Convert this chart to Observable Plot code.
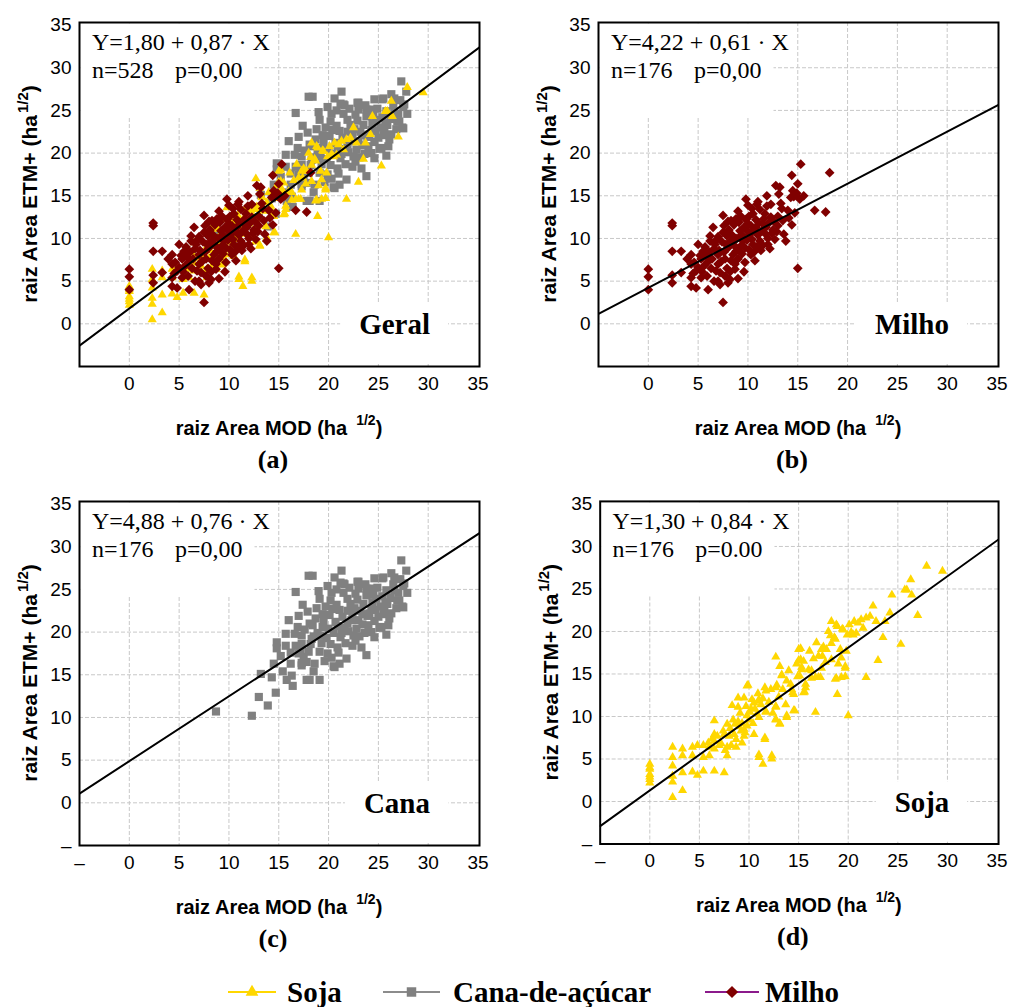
<!DOCTYPE html>
<html><head><meta charset="utf-8">
<script src="https://cdn.jsdelivr.net/npm/d3@7"></script>
<script src="https://cdn.jsdelivr.net/npm/@observablehq/plot@0.6"></script>
<style>
html,body{margin:0;padding:0;background:#fff}
body{width:1011px;height:1007px;overflow:hidden;position:relative}
.panel{position:absolute}
</style></head><body>
<script>
// ---------- data ----------
const soja = [
[0,4.4],[0,4.0],[0,3.8],[0,3.2],[0,2.9],[0,2.6],[0,2.2],
[2.3,6.4],[2.3,5.2],[2.3,4.2],[2.3,3.0],[2.3,2.3],[2.3,0.5],[3.3,6.2],[3.3,5.4],[3.3,3.4],[3.3,1.3],
[4.3,6.4],[4.3,5.4],[4.3,3.5],[4.8,6.6],[4.8,3.1],[5.4,6.6],[5.4,5.2],[5.4,3.6],[6.0,6.4],[6.0,5.4],
[6.5,9.5],[6.5,7.9],[6.5,7.1],[6.5,6.2],[6.5,3.6],[7.0,6.6],[7.5,7.9],[7.5,3.4],[7.8,9.1],[7.8,6.4],[7.8,5.4],
[8.3,11.3],[8.6,9.1],[8.7,7.3],[8.7,6.4],[8.9,12.2],[8.9,11.1],[9.2,8.3],[9.5,12.2],[9.5,8.5],[9.5,7.7],
[9.8,13.6],[9.8,10.1],[9.8,8.9],[10.2,10.9],[10.5,11.6],[10.8,10.3],[11.0,11.8],[11.0,9.9],[11.0,5.2],
[11.4,4.4],[11.6,7.3],[11.7,13.0],[11.7,10.5],[12.2,13.2],[12.3,5.0],[12.7,17.0],[12.7,11.1],[12.7,9.7],
[12.7,13.4],[13.1,15.9],[13.1,9.1],[13.3,14.8],[13.7,11.4],[13.8,14.2],[13.8,9.9],[14.4,12.8],[14.6,10.7],
[15.0,17.9],[15.0,16.6],[15.1,14.8],[15.3,15.8],[15.5,12.8],[15.7,13.8],[16.1,17.7],[16.3,15.4],[16.7,10.5],
[16.8,18.7],[17.0,14.6],[17.3,17.9],[17.4,17.1],[17.8,17.9],[18.2,19.5],[18.3,21.2],[18.7,19.1],[18.7,14.4],
[18.9,20.6],[18.9,12.6],[19.2,17.9],[19.3,14.6],[19.5,20.2],[19.7,15.7],[19.8,17.7],[20.0,10.1],[20.5,19.6],
[20.6,21.2],[21.0,21.0],[21.3,21.4],[21.8,14.6],[21.8,21.6],[22.5,23.0],[22.8,21.2],[23.0,16.6],[23.5,19.3],
[23.7,21.2],[24.2,22.2],[24.4,24.3],[25.3,18.5],[25.7,24.9],[25.9,24.9],[26.3,26.1],[26.4,24.3],[27.0,21.9],
[27.9,27.7],[29.5,27.1],
[18.8,20.8],[19.4,20.3],[18.6,19.3],[19.9,19.6],[20.3,19.9],[18.3,18.6],[17.5,18.2],[15.2,18.0],[15.2,16.7],
[15.5,16.5],[17.0,17.1],[18.3,16.7],[19.3,16.9],[13.3,14.9],[14.9,14.7],[15.3,15.5],[16.0,15.5],[16.3,14.5],
[16.7,14.6],[17.2,14.6],[17.3,15.7],[18.8,14.5],[19.7,14.7],[19.7,15.9],[11.6,13.4],[12.8,13.7],[9.9,13.7],
[14.3,13.2],[14.5,12.6],[15.7,13.4],[15.6,12.9],[11.0,12.0],[11.7,10.6],[12.7,11.2],[14.5,10.7],[13.8,10.1],
[12.7,9.6],[13.1,9.2],[11.6,7.5],[11.0,5.5],[12.3,5.4],
[5.9,6.9],[6.3,7.4],[6.8,7.7],[7.2,6.8],[7.4,8.3],[7.6,6.0],[8.0,7.7],[8.1,8.6],[8.4,9.6],[8.5,7.9],[8.9,9.4],
[9.0,8.8],[9.1,10.4],[9.3,9.2],[9.6,8.1],[9.7,11.2],[10.0,9.6],[10.1,10.5],[10.3,12.0],[10.4,9.2],[10.6,10.9],
[10.9,12.7],[11.2,11.4],[11.4,12.1],[12.0,11.7],[12.4,10.4],[13.0,12.3],[13.4,13.2],[14.0,15.4],[14.2,13.8],
[14.8,16.2],[16.5,16.8],[17.7,16.4],[18.0,20.0],[20.1,20.8],[20.8,19.8],[21.5,20.4],[22.2,21.8],[19.0,16.2],
[8.2,6.6],[9.3,6.9],[10.5,7.9]
];
const cana = [
[8.7,10.7],[12.3,10.2],[13.0,12.4],[13.9,11.4],[14.7,12.9],[13.2,15.1],[14.5,16.3],[15.4,15.4],[15.8,14.4],
[16.4,13.7],[16.2,16.3],[17.3,16.4],[17.8,14.4],[14.8,18.8],[14.8,18.1],[15.7,19.8],[16.6,19.8],[17.3,19.6],
[15.7,18.4],[16.7,18.4],[17.3,18.6],[17.0,21.9],[16.7,24.7],[18.0,26.6],[17.0,17.5],[17.3,16.1],[17.5,17.1],
[18.4,26.6],[21.3,27.2],[20.6,26.4],[21.2,25.8],[21.6,25.6],[23.0,25.9],[23.7,25.6],[23.0,25.1],[24.2,25.1],
[25.5,26.4],[26.6,26.4],[27.3,28.4],[27.8,27.2],[27.5,25.4],[26.6,24.9],[26.9,23.7],[27.5,22.9],[19.1,23.9],
[20.2,23.7],[21.9,23.9],[22.7,24.5],[23.8,24.3],[24.8,23.9],[25.7,23.5],[25.5,22.1],[24.3,22.7],[23.4,22.1],
[22.4,22.3],[21.4,21.8],[20.4,22.7],[19.4,22.1],[18.4,20.8],[19.4,20.6],[20.7,21.2],[21.9,21.0],[23.0,21.4],
[24.0,20.8],[25.3,20.6],[18.3,19.2],[19.2,19.6],[20.2,18.6],[21.2,19.4],[22.5,19.6],[22.7,19.0],[18.0,17.7],
[19.1,17.7],[19.9,17.5],[20.9,18.2],[18.6,16.3],[20.6,15.9],[18.1,14.4],[19.1,14.4],[17.8,16.5],
[18.1,21.0],[18.5,19.5],[20.5,16.0],[25.1,20.5],[27.4,23.0],[27.1,23.7],[27.6,25.7],[26.3,22.2],[25.8,24.9],
[25.4,26.3],[24.5,24.4],[23.8,25.1],[22.9,25.9],[21.5,25.7],
[17.6,20.3],[17.9,22.4],[18.2,18.6],[18.7,21.6],[18.9,19.9],[19.3,18.7],[19.5,21.3],[19.7,23.0],[19.8,19.3],
[20.0,20.4],[20.1,22.0],[20.3,17.0],[20.5,19.9],[20.8,23.2],[20.9,20.7],[21.0,17.6],[21.1,22.6],[21.3,19.9],
[21.5,24.6],[21.6,20.5],[21.7,18.7],[21.9,22.5],[22.0,20.1],[22.2,23.3],[22.3,21.4],[22.4,18.4],[22.6,22.8],
[22.8,20.4],[22.9,23.8],[23.1,19.5],[23.2,22.5],[23.4,20.9],[23.5,23.3],[23.6,19.9],[23.9,21.9],[24.0,24.5],
[24.1,22.2],[24.3,20.0],[24.4,23.5],[24.6,21.3],[24.7,22.6],[24.9,25.2],[25.0,21.8],[25.2,23.0],[25.4,24.2],
[25.6,22.4],[25.9,23.3],[26.1,21.6],[26.2,24.0],[26.5,25.6],[26.8,22.8],[27.0,24.6],[27.2,26.2],[16.2,17.6],
[16.9,20.6],[17.2,17.9],[18.8,22.8],[19.6,16.6],[20.3,24.6],[21.8,16.9],[22.1,25.2],[23.3,18.2],[24.6,19.4],
[26.0,20.8],[16.3,14.9],[18.5,15.4],[15.2,17.2],[14.3,14.7],[19.9,25.4],[20.8,25.0],[24.6,26.3],[26.3,26.9],
[17.4,23.2],[25.8,19.7],[21.1,16.3],[23.8,17.3],[16.0,21.4],[19.0,24.8],[27.9,24.6]
];
const milho = [
[0,6.4],[0,5.5],[0,4.0],[2.4,11.8],[2.4,11.5],[2.4,8.5],[2.4,5.7],[2.4,4.8],[3.3,8.5],[3.3,6.0],[4.3,8.1],
[4.3,7.0],[4.3,5.4],[4.3,4.4],[4.8,6.2],[4.8,4.2],[5.0,9.3],[5.3,7.6],[5.3,5.4],[5.5,8.5],[6.0,4.0],[6.2,9.7],
[6.5,11.3],[6.7,9.3],[7.0,8.1],[7.0,7.0],[7.0,5.0],[7.2,6.0],[7.5,12.7],[7.5,10.7],[7.5,2.5],[7.7,7.6],[7.7,5.6],
[7.8,9.3],[8.0,4.8],[8.3,12.1],[8.3,9.7],[8.3,7.4],[8.5,8.1],[8.7,7.0],[8.8,12.3],[9.0,5.3],[9.2,10.9],[9.5,9.7],
[9.7,8.9],[9.8,14.6],[10.0,13.9],[10.0,11.7],[10.2,10.5],[10.3,8.1],[10.5,12.9],[10.5,9.3],[10.7,7.4],[10.8,11.3],
[11.0,14.3],[11.2,9.7],[11.5,11.7],[11.7,12.9],[11.8,10.5],[12.0,9.3],[12.3,12.5],[12.5,11.0],[13.0,11.5],
[12.8,16.2],[13.2,16.0],[13.3,14.1],[13.8,9.7],[14.0,13.3],[14.3,14.8],[14.4,17.4],[14.4,11.6],[15.0,16.4],
[15.3,18.7],[14.5,15.6],[14.6,14.9],[15.0,6.5],[16.7,13.3],[17.8,13.1],[18.2,17.7],
[4.6,7.2],[5.0,6.6],[5.2,8.0],[5.6,6.8],[5.8,7.9],[5.9,5.6],[6.1,8.4],[6.3,6.5],[6.4,7.6],[6.6,8.8],[6.8,6.2],
[6.9,9.9],[7.1,8.6],[7.3,7.3],[7.4,9.6],[7.6,8.4],[7.6,11.5],[7.9,10.3],[7.9,6.5],[8.0,8.9],[8.1,11.0],[8.2,6.1],
[8.4,10.4],[8.6,9.2],[8.6,11.6],[8.8,8.5],[8.9,10.0],[9.0,7.6],[9.1,11.9],[9.2,9.0],[9.3,12.6],[9.4,8.2],
[9.4,10.4],[9.6,11.3],[9.7,7.2],[9.8,12.2],[9.9,9.8],[10.0,10.8],[10.1,8.7],[10.1,12.6],[10.3,11.5],[10.4,9.9],
[10.4,13.5],[10.6,10.9],[10.6,8.4],[10.8,12.2],[10.9,9.0],[11.0,10.4],[11.1,11.8],[11.2,13.4],[11.3,8.6],
[11.4,10.9],[11.5,9.2],[11.6,12.3],[11.8,11.3],[11.9,13.8],[12.0,10.0],[12.1,11.8],[12.2,8.8],[12.4,10.6],
[12.6,12.0],[12.7,9.9],[12.9,10.8],[13.0,12.6],[13.1,15.2],[13.5,12.1],[13.6,10.5],[14.1,12.4],[14.7,13.0],
[14.9,15.3],[15.2,14.6],[15.6,15.0],[6.0,7.3],[5.4,6.1],[4.5,5.9],[3.9,7.6],[7.2,4.6],[8.2,5.2],[9.6,6.1],
[6.6,5.0],[8.7,6.4],[5.7,9.0],[6.2,10.3],[7.0,10.2],[9.0,13.2],[8.0,12.0],[10.9,14.0],[11.9,15.0],[12.3,14.0],
[13.4,13.5]
];

const seriesNames = ["Soja", "Cana-de-açúcar", "Milho"];
const seriesColors = ["#ffd700", "#808080", "#800000"];
const legendLineColors = ["#ffd700", "#8c8c8c", "#8b1a8b"];
const seriesSymbols = ["triangle", "square", "diamond2"];
const seriesSizes = [3.4, 4.6, 4.4];

const panelLetters = ["(a)", "(b)", "(c)", "(d)"];
const panelNames = ["Geral", "Milho", "Cana", "Soja"];
const panelSeries = [[1, 0, 2], [2], [1], [0]];   // indices into series, drawing order
const intercepts = [1.80, 4.22, 4.88, 1.30];
const slopes = [0.87, 0.61, 0.76, 0.84];
const nLabels = ["n=528", "n=176", "n=176", "n=176"];
const pLabels = ["p=0,00", "p=0,00", "p=0,00", "p=0.00"];
const showMinusTick = [false, false, true, true];
const axisTicks = [0, 5, 10, 15, 20, 25, 30, 35];
const gridTicks = [0, 5, 10, 15, 20, 25, 30];
const minusTick = -5;
const xTitle = "raiz Area MOD (ha";
const yTitle = "raiz Area ETM+ (ha";
const supText = "1/2";

// ---------- layout ----------
const seriesData = [soja, cana, milho];
const panelPos = [[0, 0], [519, 0], [0, 479], [521, 479]];
const W = 492, H = 478, ML = 79, MR = 13, MT = 22, PH = 344;
const sans = "'Liberation Sans', Arial, sans-serif";
const serif = "'Liberation Serif', 'Times New Roman', serif";

function fmt(v) { return v.toFixed(2).replace(".", ","); }

panelLetters.forEach((letter, i) => {
  const xd = [-5, 35.15], yd = [-5, 35.3];
  const ticks = showMinusTick[i] ? [minusTick, ...axisTicks] : axisTicks;
  const tf = d => d === minusTick ? "–" : String(d);
  const marks = [
    Plot.gridX(gridTicks, {stroke: "#c8c8c8", strokeOpacity: 1, strokeWidth: 1, strokeDasharray: "4,2"}),
    Plot.gridY(gridTicks, {stroke: "#c8c8c8", strokeOpacity: 1, strokeWidth: 1, strokeDasharray: "4,2"})
  ];
  panelSeries[i].forEach(s => {
    marks.push(Plot.dot(seriesData[s], {
      x: d => d[0], y: d => d[1], symbol: seriesSymbols[s], r: seriesSizes[s],
      fill: seriesColors[s], stroke: "none"
    }));
  });
  marks.push(Plot.line(xd, {x: d => d, y: d => intercepts[i] + slopes[i] * d,
    stroke: "black", strokeWidth: 2, clip: true}));
  marks.push(Plot.frame({stroke: "black", strokeWidth: 2}));

  const chart = Plot.plot({
    width: W, height: H, marginLeft: ML, marginRight: MR, marginTop: MT,
    marginBottom: H - MT - PH,
    style: {fontFamily: sans, fontSize: "19px", background: "white", overflow: "visible"},
    x: {domain: xd, ticks, tickFormat: tf, tickSize: 0, tickPadding: 10, label: null},
    y: {domain: yd, ticks, tickFormat: tf, tickSize: 0, tickPadding: 8, label: null},
    marks
  });
  const div = document.createElement("div");
  div.className = "panel";
  div.style.left = panelPos[i][0] + "px";
  div.style.top = panelPos[i][1] + "px";
  div.appendChild(chart);
  document.body.appendChild(div);

  const svg = d3.select(chart);
  const fx0 = ML, fx1 = W - MR, fy0 = MT, fy1 = MT + PH;

  // white box behind equation text (covers the grid like the original)
  const firstDot = chart.querySelector('g[aria-label="dot"]');
  const box = document.createElementNS("http://www.w3.org/2000/svg", "rect");
  box.setAttribute("x", fx0 + 1.5); box.setAttribute("y", fy0 + 1.5);
  box.setAttribute("width", 174); box.setAttribute("height", 94);
  box.setAttribute("fill", "white");
  chart.insertBefore(box, firstDot);

  const ann = svg.append("g").attr("font-family", serif).attr("fill", "black").attr("text-anchor", "start");
  ann.append("text").attr("x", fx0 + 13).attr("y", fy0 + 28).attr("font-size", 24)
    .text("Y=" + fmt(intercepts[i]) + " + " + fmt(slopes[i]) + " · X");
  ann.append("text").attr("x", fx0 + 13).attr("y", fy0 + 56).attr("font-size", 24).text(nLabels[i]);
  ann.append("text").attr("x", fx0 + 96).attr("y", fy0 + 56).attr("font-size", 24).text(pLabels[i]);

  // panel name with white box
  const nameT = ann.append("text").attr("x", fx1 - 49).attr("y", fy1 - 32)
    .attr("text-anchor", "end").attr("font-size", 29).attr("font-weight", "bold").text(panelNames[i]);
  const bb = nameT.node().getBBox();
  const nb = document.createElementNS("http://www.w3.org/2000/svg", "rect");
  nb.setAttribute("x", bb.x - 19); nb.setAttribute("y", fy1 - 62);
  nb.setAttribute("width", bb.width + 37); nb.setAttribute("height", 60);
  nb.setAttribute("fill", "white");
  chart.insertBefore(nb, firstDot);

  // axis titles
  const cx = (fx0 + fx1) / 2, cy = (fy0 + fy1) / 2;
  const xt = svg.append("text").attr("x", cx).attr("y", fy1 + 69).attr("text-anchor", "middle")
    .attr("font-family", sans).attr("font-weight", "bold").attr("font-size", 20).attr("fill", "black");
  xt.append("tspan").text(xTitle);
  xt.append("tspan").attr("dx", 9).attr("dy", -10).attr("font-size", 14).text(supText);
  xt.append("tspan").attr("dy", 10).text(")");
  const yt = svg.append("text").attr("transform", `translate(37,${cy}) rotate(-90)`)
    .attr("text-anchor", "middle").attr("font-family", sans).attr("font-weight", "bold")
    .attr("font-size", 21).attr("fill", "black");
  yt.append("tspan").text(yTitle);
  yt.append("tspan").attr("dx", 2).attr("dy", -9).attr("font-size", 15).text(supText);
  yt.append("tspan").attr("dy", 9).text(")");

  // panel letter
  svg.append("text").attr("x", cx - 6).attr("y", fy1 + 102).attr("text-anchor", "middle")
    .attr("font-family", serif).attr("font-weight", "bold").attr("font-size", 26).attr("fill", "black")
    .text(letter);
});

// ---------- legend below the panels ----------
const legendX = [[228, 276, 287], [383, 440, 453], [705, 759, 765]];
const leg = d3.select(document.body).append("svg")
  .attr("width", 1011).attr("height", 50)
  .style("position", "absolute").style("left", "0px").style("top", "957px");
const legendOrder = [0, 1, 2];
legendOrder.forEach((s, k) => {
  const [l0, l1, tx] = legendX[k];
  const cyL = 35;
  leg.append("line").attr("x1", l0).attr("x2", l1).attr("y1", cyL).attr("y2", cyL)
    .attr("stroke", legendLineColors[s]).attr("stroke-width", 2);
  const sym = [d3.symbolTriangle, d3.symbolSquare, d3.symbolDiamond2][s];
  const size = [70, 90, 95][s];
  leg.append("path").attr("d", d3.symbol(sym, size)())
    .attr("transform", `translate(${(l0 + l1) / 2},${cyL})`).attr("fill", seriesColors[s]);
  leg.append("text").attr("x", tx).attr("y", cyL + 10).attr("font-family", serif)
    .attr("font-weight", "bold").attr("font-size", 29).attr("fill", "black").text(seriesNames[s]);
});
</script>
</body></html>
